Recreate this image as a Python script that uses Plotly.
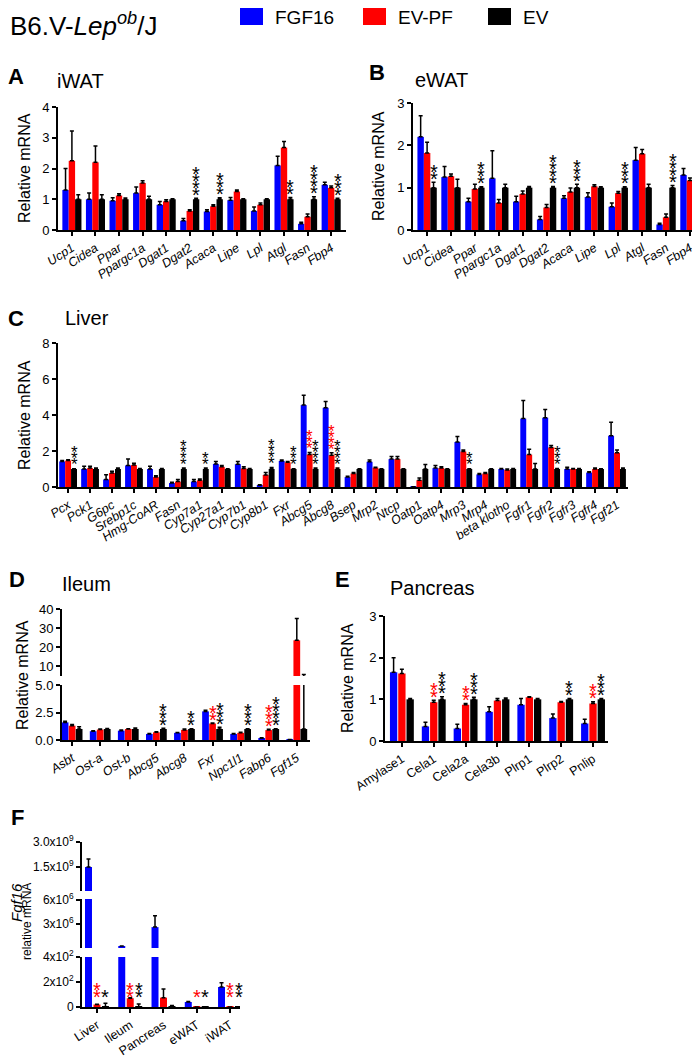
import numpy as np
import plotly.graph_objects as go

W, H = 700, 1057
OFF = 8  # the page body keeps an 8 px margin round the figure
FW, FH = W - OFF, H - OFF
FONT = "Liberation Sans, Arial, sans-serif"
BLUE, RED, BLACK = "#0000ff", "#ff0000", "#000000"

series_names = ["FGF16", "EV-PF", "EV"]
series_colors = [BLUE, RED, BLACK]

# ---- A: iWAT ----
a_genes = ["Ucp1", "Cidea", "Ppar", "Ppargc1a", "Dgat1", "Dgat2", "Acaca", "Lipe", "Lpl", "Atgl", "Fasn", "Fbp4"]
a_fgf16 = [1.30, 1.00, 0.95, 1.20, 0.82, 0.30, 0.60, 0.97, 0.62, 2.10, 0.20, 1.47]
a_fgf16_sem = [0.70, 0.20, 0.10, 0.20, 0.11, 0.07, 0.06, 0.09, 0.13, 0.30, 0.05, 0.08]
a_evpf = [2.25, 2.20, 1.12, 1.53, 0.93, 0.62, 0.77, 1.25, 0.82, 2.68, 0.43, 1.37]
a_evpf_sem = [0.97, 0.53, 0.06, 0.07, 0.05, 0.04, 0.05, 0.05, 0.06, 0.20, 0.09, 0.06]
a_ev = [1.0] * 12
a_ev_sem = [0.15, 0.15, 0.04, 0.10, 0.02, 0.03, 0.05, 0.02, 0.02, 0.06, 0.08, 0.03]
a_stars_evpf = [0] * 12
a_stars_ev = [0, 0, 0, 0, 0, 4, 3, 0, 0, 2, 4, 3]

# ---- B: eWAT ----
b_genes = a_genes
b_fgf16 = [2.20, 1.25, 0.67, 1.22, 0.67, 0.25, 0.75, 0.78, 0.55, 1.65, 0.13, 1.30]
b_fgf16_sem = [0.50, 0.25, 0.08, 0.65, 0.13, 0.07, 0.06, 0.10, 0.09, 0.30, 0.03, 0.15]
b_evpf = [1.82, 1.27, 0.97, 0.64, 0.85, 0.53, 0.90, 1.03, 0.87, 1.80, 0.30, 1.17]
b_evpf_sem = [0.25, 0.05, 0.11, 0.08, 0.07, 0.07, 0.09, 0.04, 0.04, 0.10, 0.08, 0.06]
b_ev = [1.0] * 12
b_ev_sem = [0.13, 0.20, 0.02, 0.08, 0.03, 0.03, 0.08, 0.02, 0.02, 0.08, 0.05, 0.02]
b_stars_evpf = [0] * 12
b_stars_ev = [2, 0, 3, 0, 0, 4, 3, 0, 3, 0, 4, 0]

# ---- C: Liver ----
c_genes = ["Pcx", "Pck1", "G6pc", "Srebp1c", "Hmg-CoAR", "Fasn", "Cyp7a1", "Cyp27a1", "Cyp7b1", "Cyp8b1",
           "Fxr", "Abcg5", "Abcg8", "Bsep", "Mrp2", "Ntcp", "Oatp1", "Oatp4", "Mrp3", "Mrp4",
           "beta klotho", "Fgfr1", "Fgfr2", "Fgfr3", "Fgfr4", "Fgf21"]
c_fgf16 = [1.42, 1.00, 0.42, 1.20, 1.00, 0.22, 0.30, 1.28, 1.27, 0.10, 1.45, 4.55, 4.40, 0.55, 1.40,
           1.55, 0.02, 1.05, 2.50, 0.70, 1.00, 3.80, 3.85, 1.00, 0.80, 2.85]
c_fgf16_sem = [0.05, 0.15, 0.26, 0.35, 0.15, 0.05, 0.12, 0.14, 0.15, 0.03, 0.05, 0.55, 0.35, 0.05, 0.10,
               0.15, 0.00, 0.15, 0.30, 0.05, 0.03, 1.00, 0.45, 0.10, 0.05, 0.75]
c_evpf = [1.47, 1.05, 0.78, 1.22, 0.55, 0.30, 0.37, 1.12, 1.03, 0.67, 1.37, 1.80, 1.77, 0.75, 1.07,
          1.55, 0.38, 1.05, 1.97, 0.75, 0.95, 1.80, 2.20, 1.00, 1.00, 1.90]
c_evpf_sem = [0.05, 0.10, 0.10, 0.10, 0.07, 0.12, 0.08, 0.08, 0.09, 0.13, 0.05, 0.12, 0.13, 0.05, 0.03,
              0.15, 0.12, 0.07, 0.08, 0.05, 0.05, 0.30, 0.10, 0.03, 0.05, 0.15]
c_ev = [1.0] * 26
c_ev_sem = [0.02, 0.05, 0.05, 0.03, 0.03, 0.05, 0.05, 0.02, 0.03, 0.08, 0.02, 0.06, 0.06, 0.02, 0.02,
            0.02, 0.25, 0.02, 0.02, 0.02, 0.03, 0.30, 0.03, 0.03, 0.02, 0.05]
c_stars_evpf = [0] * 11 + [3, 4] + [0] * 13
c_stars_ev = [3, 0, 0, 0, 0, 4, 2, 0, 0, 4, 3, 4, 4, 0, 0, 0, 0, 0, 2, 0, 0, 0, 3, 0, 0, 0]

# ---- D: Ileum ----
d_genes = ["Asbt", "Ost-a", "Ost-b", "Abcg5", "Abcg8", "Fxr", "Npc1l1", "Fabp6", "Fgf15"]
d_fgf16 = [1.60, 0.80, 0.85, 0.55, 0.65, 2.60, 0.55, 0.15, 0.05]
d_fgf16_sem = [0.10, 0.03, 0.07, 0.05, 0.03, 0.10, 0.05, 0.05, 0.00]
d_evpf = [1.30, 0.95, 1.00, 0.70, 0.92, 1.50, 0.65, 0.90, 23.5]
d_evpf_sem = [0.10, 0.05, 0.03, 0.05, 0.08, 0.05, 0.05, 0.07, 11.5]
d_ev = [1.0] * 9
d_ev_sem = [0.20, 0.05, 0.10, 0.07, 0.03, 0.15, 0.03, 0.03, 4.5]
d_stars_evpf = [0, 0, 0, 0, 0, 2, 0, 3, 0]
d_stars_ev = [0, 0, 0, 3, 2, 3, 3, 4, 0]

# ---- E: Pancreas ----
e_genes = ["Amylase1", "Cela1", "Cela2a", "Cela3b", "Plrp1", "Plrp2", "Pnlip"]
e_fgf16 = [1.65, 0.35, 0.30, 0.70, 0.87, 0.55, 0.42]
e_fgf16_sem = [0.35, 0.10, 0.10, 0.12, 0.15, 0.10, 0.10]
e_evpf = [1.62, 0.93, 0.87, 0.97, 1.05, 0.93, 0.90]
e_evpf_sem = [0.10, 0.05, 0.03, 0.05, 0.01, 0.02, 0.04]
e_ev = [1.0] * 7
e_ev_sem = [0.02, 0.06, 0.05, 0.03, 0.02, 0.02, 0.02]
e_stars_evpf = [0, 2, 2, 0, 0, 0, 2]
e_stars_ev = [0, 3, 3, 0, 0, 2, 3]

# ---- F: Fgf16 relative mRNA ----
f_tissues = ["Liver", "Ileum", "Pancreas", "eWAT", "iWAT"]
f_fgf16 = [1.5e9, 2.5e5, 2.6e6, 40, 160]
f_fgf16_sem = [0.48e9, 0, 1.4e6, 5, 35]
f_evpf = [20, 70, 75, 1, 1]
f_evpf_sem = [2, 5, 70, 0, 0]
f_ev = [1, 1, 1, 1, 1]
f_ev_sem = [29, 24, 11, 0, 0]
f_stars_evpf = [2, 2, 0, 1, 2]
f_stars_ev = [1, 2, 0, 1, 2]


def px(x):
    return (x - OFF) / FW


def py(y):
    return 1 - (y - OFF) / FH


fig = go.Figure()
layout = {}
annotations = []
shapes = []

AXIS = dict(showline=True, linecolor="black", linewidth=2, ticks="outside", ticklen=4,
            tickwidth=1.5, tickcolor="black", showgrid=False, zeroline=False, automargin=False,
            tickfont=dict(family=FONT, size=13, color="black"))


def axkey(ref, kind):
    return kind + "axis" + ref[1:]


def add_xaxis(ref, xdom, rng, labels, anchor, italic=True):
    text = ["<i>%s</i>" % t if italic else t for t in labels]
    layout[axkey(ref, "x")] = dict(AXIS, domain=[px(xdom[0]), px(xdom[1])], range=rng,
                                   tickvals=list(range(len(labels))), ticktext=text, tickangle=-33,
                                   tickfont=dict(family=FONT, size=12.5, color="black"), anchor=anchor)


def add_yaxis(ref, ydom, rng, anchor, tickvals, ticktext=None, size=13):
    d = dict(AXIS, domain=[py(ydom[1]), py(ydom[0])], range=rng, anchor=anchor, tickvals=tickvals,
             tickfont=dict(family=FONT, size=size, color="black"))
    if ticktext is not None:
        d["ticktext"] = ticktext
    layout[axkey(ref, "y")] = d


def add_bars(xr, yr, vals, sems, width, step, floor=None):
    # floor: lower limit of a broken-axis segment; bars that never reach it are left out there
    for k, (v, s) in enumerate(zip(vals, sems)):
        v = np.array(v, dtype=float)
        s = np.array(s, dtype=float)
        if floor is not None:
            keep = v + s > floor
            v = np.where(keep, v, np.nan)
            s = np.where(keep, s, np.nan)
        n = len(v)
        fig.add_trace(go.Bar(
            x=np.arange(n) + (k - 1) * step, y=v, width=width,
            marker=dict(color=series_colors[k], line=dict(width=0)),
            error_y=dict(type="data", array=s, arrayminus=np.zeros(n), symmetric=False,
                         color="black", thickness=1.5, width=2),
            xaxis=xr, yaxis=yr, showlegend=False, hoverinfo="skip", name=series_names[k]))


def add_stars(xr, yr, vals, sems, stars, step, fs=20, gap=4, spacing=7, base=None):
    for k in (1, 2):
        for i, cnt in enumerate(stars[k - 1]):
            y0 = vals[k][i] + sems[k][i] if base is None else base
            for j in range(cnt):
                annotations.append(dict(
                    x=i + (k - 1) * step, y=y0, xref=xr, yref=yr, text="*", showarrow=False,
                    xanchor="center", yanchor="bottom", yshift=gap + j * spacing - 0.63 * fs - 1,
                    font=dict(family=FONT, size=fs, color=series_colors[k])))


def label(x, y, text, size, xanchor="left", angle=0):
    annotations.append(dict(x=px(x), y=py(y), xref="paper", yref="paper", text=text, showarrow=False,
                            xanchor=xanchor, yanchor="middle", textangle=angle,
                            font=dict(family=FONT, size=size, color="black")))


# Panel A
add_xaxis("x", (58, 346), [-0.59, 11.63], a_genes, "y")
add_yaxis("y", (107, 230), [0, 4], "x", [0, 1, 2, 3, 4])
a_vals = [a_fgf16, a_evpf, a_ev]
a_sems = [a_fgf16_sem, a_evpf_sem, a_ev_sem]
add_bars("x", "y", a_vals, a_sems, 0.27, 0.27)
add_stars("x", "y", a_vals, a_sems, [a_stars_evpf, a_stars_ev], 0.27)

# Panel B
add_xaxis("x2", (413, 700), [-0.59, 11.42], b_genes, "y2")
add_yaxis("y2", (103, 230), [0, 3], "x2", [0, 1, 2, 3])
b_vals = [b_fgf16, b_evpf, b_ev]
b_sems = [b_fgf16_sem, b_evpf_sem, b_ev_sem]
add_bars("x2", "y2", b_vals, b_sems, 0.27, 0.27)
add_stars("x2", "y2", b_vals, b_sems, [b_stars_evpf, b_stars_ev], 0.27)

# Panel C
add_xaxis("x3", (58, 628), [-0.46, 25.5], c_genes, "y3")
add_yaxis("y3", (343, 487), [0, 8], "x3", [0, 2, 4, 6, 8])
c_vals = [c_fgf16, c_evpf, c_ev]
c_sems = [c_fgf16_sem, c_evpf_sem, c_ev_sem]
add_bars("x3", "y3", c_vals, c_sems, 0.27, 0.27)
add_stars("x3", "y3", c_vals, c_sems, [c_stars_evpf, c_stars_ev], 0.27, fs=17, spacing=6)

# Panel D (broken y axis)
add_xaxis("x4", (62, 310), [-0.36, 8.47], d_genes, "y4")
add_yaxis("y4", (685, 740), [0, 5], "x4", [0, 2.5, 5], ["0.0", "2.5", "5.0"])
add_yaxis("y5", (609, 676), [4.7, 40], "x4", [10, 20, 30, 40])
d_vals = [d_fgf16, d_evpf, d_ev]
d_sems = [d_fgf16_sem, d_evpf_sem, d_ev_sem]
add_bars("x4", "y4", d_vals, d_sems, 0.24, 0.25)
add_bars("x4", "y5", d_vals, d_sems, 0.24, 0.25, floor=5)
add_stars("x4", "y4", d_vals, d_sems, [d_stars_evpf, d_stars_ev], 0.25)

# Panel E
add_xaxis("x5", (385, 608), [-0.53, 6.47], e_genes, "y6", italic=False)
add_yaxis("y6", (616, 741), [0, 3], "x5", [0, 1, 2, 3])
e_vals = [e_fgf16, e_evpf, e_ev]
e_sems = [e_fgf16_sem, e_evpf_sem, e_ev_sem]
add_bars("x5", "y6", e_vals, e_sems, 0.23, 0.26)
add_stars("x5", "y6", e_vals, e_sems, [e_stars_evpf, e_stars_ev], 0.26)

# Panel F (two breaks)
add_xaxis("x6", (82, 240), [-0.45, 4.3], f_tissues, "y7", italic=False)
add_yaxis("y7", (957, 1007), [0, 400], "x6", [0, 200, 400], ["0", "2x10<sup>2</sup>", "4x10<sup>2</sup>"], 12)
add_yaxis("y8", (899, 948), [0, 6.1e6], "x6", [3e6, 6e6], ["3x10<sup>6</sup>", "6x10<sup>6</sup>"], 12)
add_yaxis("y9", (842, 891), [0.06e9, 3.0e9], "x6", [1.5e9, 3.0e9],
          ["1.5x10<sup>9</sup>", "3.0x10<sup>9</sup>"], 12)
f_vals = [f_fgf16, f_evpf, f_ev]
f_sems = [f_fgf16_sem, f_evpf_sem, f_ev_sem]
add_bars("x6", "y7", f_vals, f_sems, 0.21, 0.255)
add_bars("x6", "y8", f_vals, f_sems, 0.21, 0.255, floor=400)
add_bars("x6", "y9", f_vals, f_sems, 0.21, 0.255, floor=6.1e6)
add_stars("x6", "y7", f_vals, f_sems, [f_stars_evpf, f_stars_ev], 0.255, gap=11, base=0)

# y axis titles
for x, y in ((24, 168), (378, 166), (24, 415), (22, 675), (347, 678)):
    label(x, y, "Relative mRNA", 16, xanchor="center", angle=-90)
label(16, 903, "<i>Fgf16</i>", 15, xanchor="center", angle=-90)
label(27, 922, "relative mRNA", 12, xanchor="center", angle=-90)

# panel letters and titles
for x, y, t in ((16, 76, "A"), (377, 72, "B"), (16, 318, "C"), (17, 579, "D"), (342, 579, "E"), (17, 817, "F")):
    label(x, y, "<b>%s</b>" % t, 22, xanchor="center")
for x, y, t in ((55, 81, "iWAT"), (413, 80, "eWAT"), (63, 318, "Liver"), (60, 584, "Ileum"), (388, 588, "Pancreas")):
    label(x, y, t, 20)

# header and legend
label(8, 25, "B6.V-<i>Lep</i><sup><i>ob</i></sup>/J", 26)
legend_x = [240, 363, 488]
for lx, name, col in zip(legend_x, series_names, series_colors):
    shapes.append(dict(type="rect", xref="paper", yref="paper", x0=px(lx), x1=px(lx + 23),
                       y0=py(25), y1=py(8), fillcolor=col, line=dict(width=0)))
    label(lx + 33, 17, name, 19)

fig.update_layout(
    width=FW, height=FH, autosize=False,
    margin=dict(l=0, r=0, t=0, b=0, pad=0, autoexpand=False),
    paper_bgcolor="white", plot_bgcolor="white",
    barmode="overlay", showlegend=False,
    font=dict(family=FONT, color="black"),
    annotations=annotations, shapes=shapes,
    **layout,
)

fig.write_html("out.html")
